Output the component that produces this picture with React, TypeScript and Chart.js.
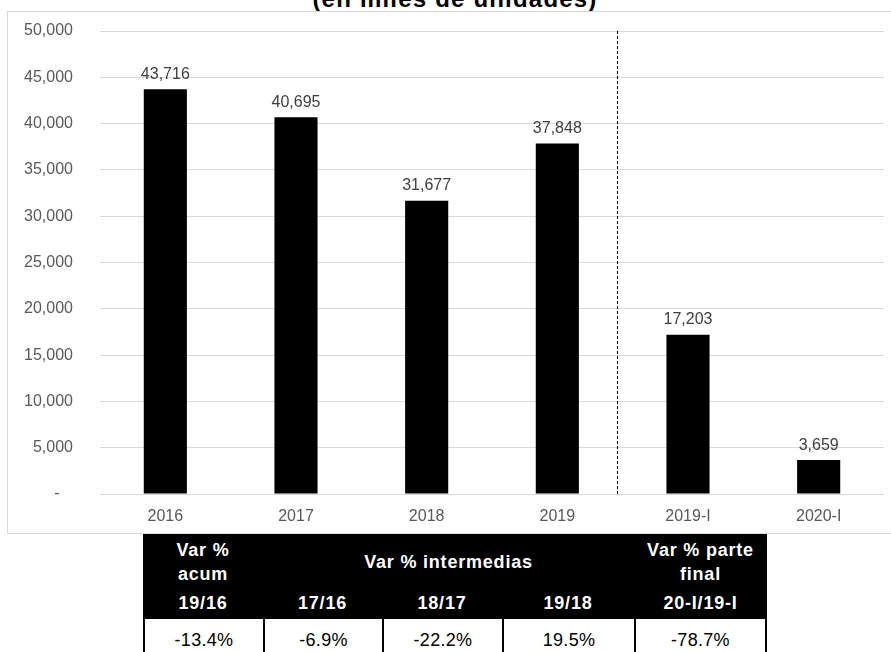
import React, { useEffect, useRef } from 'react';
import { Chart, registerables } from 'chart.js';

Chart.register(...registerables);

// ---- data ----
const titleText = '(en miles de unidades)';
const categories = ['2016', '2017', '2018', '2019', '2019-I', '2020-I'];
const unitsThousands = [43716, 40695, 31677, 37848, 17203, 3659];
const yMin = 0;
const yMax = 50000;
const yStep = 5000;
const dividerPosition = 3.46; // dashed separator, in category units (between 2019 and 2019-I)

const tableHeaderTop = ['Var %\nacum', 'Var % intermedias', 'Var % parte\nfinal'];
const tablePeriods = ['19/16', '17/16', '18/17', '19/18', '20-I/19-I'];
const tableVariations = [-13.4, -6.9, -22.2, 19.5, -78.7];

const FONT = 'Arial, "Liberation Sans", sans-serif';

const fmt = (v: number) => String(v).replace(/\B(?=(\d{3})+(?!\d))/g, ',');

const valueLabels = {
  id: 'valueLabels',
  afterDatasetsDraw(chart: any) {
    const { ctx } = chart;
    const meta = chart.getDatasetMeta(0);
    const data = chart.data.datasets[0].data as number[];
    ctx.save();
    ctx.font = `16px ${FONT}`;
    ctx.fillStyle = '#404040';
    ctx.textAlign = 'center';
    ctx.textBaseline = 'middle';
    meta.data.forEach((el: any, i: number) => {
      ctx.fillText(fmt(data[i]), el.x, el.y - 15);
    });
    ctx.restore();
  },
};

const divider = {
  id: 'divider',
  afterDatasetsDraw(chart: any) {
    const { ctx, chartArea } = chart;
    const x = Math.round(chart.scales.x.getPixelForValue(dividerPosition)) + 0.5;
    ctx.save();
    ctx.strokeStyle = '#000';
    ctx.lineWidth = 1;
    ctx.setLineDash([3, 2]);
    ctx.beginPath();
    ctx.moveTo(x, chartArea.top);
    ctx.lineTo(x, chartArea.bottom);
    ctx.stroke();
    ctx.restore();
  },
};

export default function App() {
  const ref = useRef<HTMLCanvasElement>(null);

  useEffect(() => {
    if (!ref.current) return;
    const chart = new Chart(ref.current, {
      type: 'bar',
      data: {
        labels: categories,
        datasets: [
          {
            data: unitsThousands,
            backgroundColor: '#000000',
            borderWidth: 0,
            barPercentage: 0.33,
            categoryPercentage: 1,
          },
        ],
      },
      options: {
        animation: false,
        responsive: false,
        devicePixelRatio: 1,
        layout: { padding: { top: 31, right: 7, bottom: 0, left: 0 } },
        plugins: {
          legend: { display: false },
          tooltip: { enabled: false },
          title: { display: false },
        },
        scales: {
          x: {
            grid: { display: false, drawTicks: false },
            border: { display: false },
            ticks: {
              color: '#595959',
              font: { family: FONT, size: 16 },
              padding: 13,
              maxRotation: 0,
            },
            afterFit: (s: any) => {
              s.height = 46;
            },
          },
          y: {
            min: yMin,
            max: yMax,
            grid: { color: '#d9d9d9', lineWidth: 1, drawTicks: false },
            border: { display: false },
            ticks: {
              stepSize: yStep,
              color: '#595959',
              font: { family: FONT, size: 16 },
              padding: 27,
              callback: (v: any) => (Number(v) === 0 ? '-   ' : fmt(Number(v))),
            },
            afterFit: (s: any) => {
              s.width = 100;
              s.paddingTop = 0;
              s.paddingBottom = 0;
            },
          },
        },
      },
      plugins: [valueLabels, divider],
    });
    return () => chart.destroy();
  }, []);

  const colEdges = [143, 263, 382, 502, 634, 767];
  const headerText: React.CSSProperties = {
    position: 'absolute',
    color: '#fff',
    fontWeight: 'bold',
    fontSize: 18,
    letterSpacing: '0.8px',
    lineHeight: '24px',
    textAlign: 'center',
    whiteSpace: 'pre',
  };

  return (
    <div
      style={{
        position: 'fixed',
        left: 0,
        top: 0,
        width: 891,
        height: 652,
        overflow: 'hidden',
        background: '#fff',
        fontFamily: FONT,
      }}
    >
      <div
        style={{
          position: 'absolute',
          left: 0,
          top: -13,
          width: 910,
          textAlign: 'center',
          fontWeight: 'bold',
          fontSize: 24,
          lineHeight: '24px',
          letterSpacing: '1.2px',
          color: '#000',
          whiteSpace: 'nowrap',
        }}
      >
        {titleText}
      </div>
      <div
        style={{
          position: 'absolute',
          left: 7,
          top: 11,
          width: 900,
          height: 523,
          boxSizing: 'border-box',
          border: '1px solid #d9d9d9',
        }}
      />
      <canvas
        ref={ref}
        width={891}
        height={540}
        style={{ position: 'absolute', left: 0, top: 0, width: 891, height: 540 }}
      />
      <div
        style={{
          position: 'absolute',
          left: colEdges[0],
          top: 534,
          width: colEdges[5] - colEdges[0],
          height: 85,
          background: '#000',
        }}
      />
      <div style={{ ...headerText, left: colEdges[0], width: colEdges[1] - colEdges[0], top: 538 }}>
        {tableHeaderTop[0]}
      </div>
      <div style={{ ...headerText, left: colEdges[1], width: colEdges[4] - colEdges[1], top: 550 }}>
        {tableHeaderTop[1]}
      </div>
      <div style={{ ...headerText, left: colEdges[4], width: colEdges[5] - colEdges[4], top: 538 }}>
        {tableHeaderTop[2]}
      </div>
      {tablePeriods.map((p, i) => (
        <div
          key={p}
          style={{ ...headerText, left: colEdges[i], width: colEdges[i + 1] - colEdges[i], top: 591 }}
        >
          {p}
        </div>
      ))}
      {tableVariations.map((v, i) => (
        <div
          key={i}
          style={{
            position: 'absolute',
            left: colEdges[i],
            top: 619,
            width: colEdges[i + 1] - colEdges[i],
            height: 50,
            boxSizing: 'border-box',
            borderLeft: '2px solid #000',
            borderRight: i === tableVariations.length - 1 ? '2px solid #000' : 'none',
            background: '#fff',
            color: '#000',
            fontSize: 18,
            letterSpacing: '0.3px',
            lineHeight: '24px',
            textAlign: 'center',
            paddingTop: 9,
          }}
        >
          {v.toFixed(1) + '%'}
        </div>
      ))}
    </div>
  );
}
